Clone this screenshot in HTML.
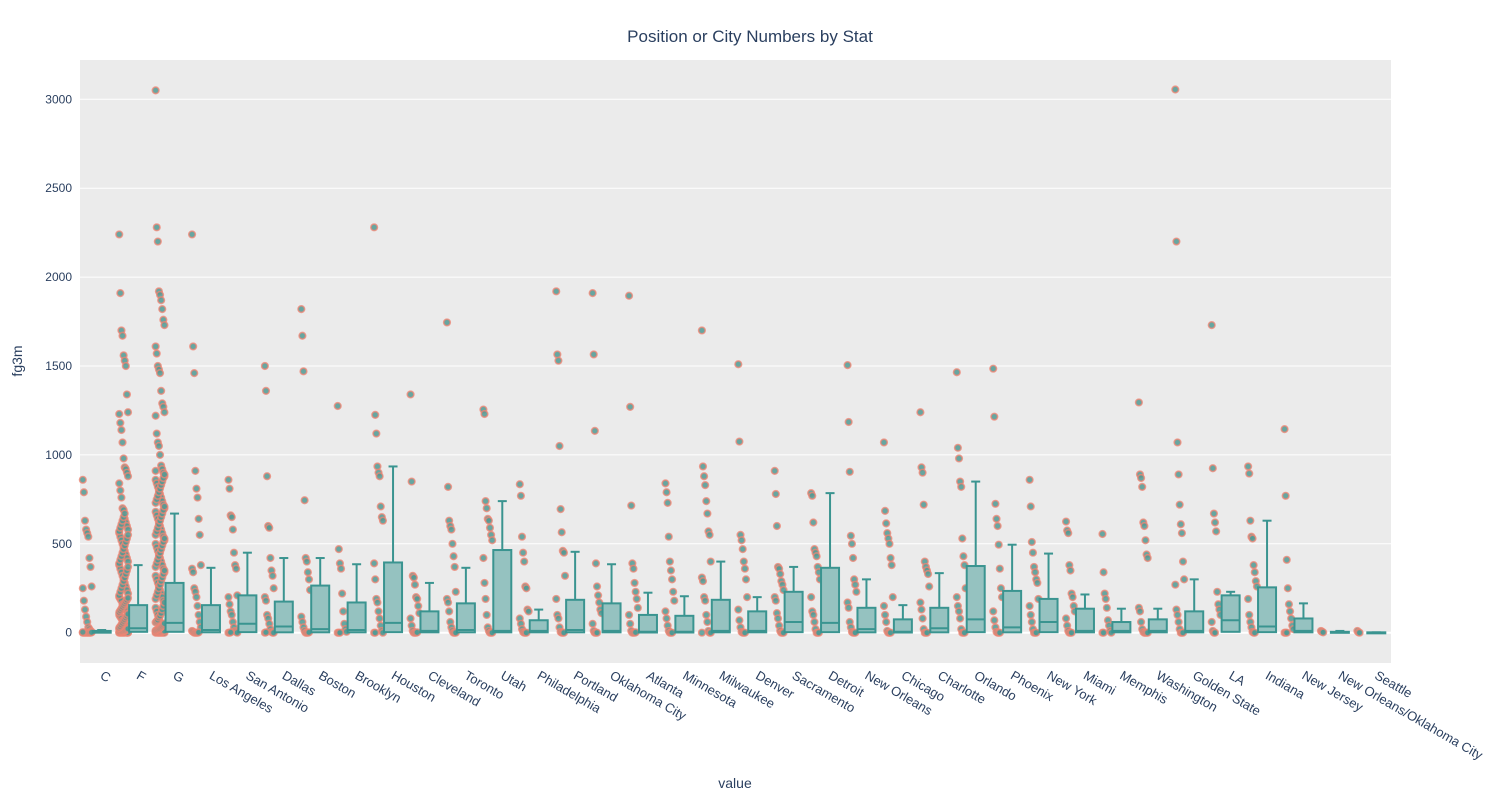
<!DOCTYPE html>
<html><head><meta charset="utf-8">
<style>
body{margin:0;background:#fff;font-family:"Liberation Sans",sans-serif;}
svg text{font-family:"Liberation Sans",sans-serif;fill:#2a3f5f;}
</style></head><body>
<svg id="chart" width="1500" height="800">
<rect x="0" y="0" width="1500" height="800" fill="#fff"/>
<rect x="80" y="60" width="1311" height="603" fill="#ebebeb"/>
<g id="grid"></g>
<g id="marks"></g>
<g id="xlabels"></g>
<text x="750" y="42" text-anchor="middle" font-size="17">Position or City Numbers by Stat</text>
<text x="735" y="788" text-anchor="middle" font-size="14">value</text>
<text x="22" y="361" text-anchor="middle" font-size="14" transform="rotate(-90 22 361)">fg3m</text>
</svg>
<script>
const categories=["C","F","G","Los Angeles","San Antonio","Dallas","Boston","Brooklyn","Houston","Cleveland","Toronto","Utah","Philadelphia","Portland","Oklahoma City","Atlanta","Minnesota","Milwaukee","Denver","Sacramento","Detroit","New Orleans","Chicago","Charlotte","Orlando","Phoenix","New York","Miami","Memphis","Washington","Golden State","LA","Indiana","New Jersey","New Orleans/Oklahoma City","Seattle"];
const q1=[0,5,5,2,3,2,2,2,3,2,2,2,2,2,2,1,1,2,2,3,3,2,1,2,3,2,3,2,2,2,2,5,3,2,1,0];
const medians=[2,25,55,15,50,35,20,15,55,10,15,10,10,15,10,5,5,10,10,60,55,20,5,25,75,30,60,10,10,10,10,70,35,10,2,1];
const q3=[10,155,280,155,210,175,265,170,395,120,165,465,70,185,165,100,95,185,120,230,365,140,75,140,375,235,190,135,60,75,120,210,255,80,5,2];
const whiskerHigh=[15,380,670,365,450,420,420,385,935,280,365,740,130,455,385,225,205,400,200,370,785,300,155,335,850,495,445,215,135,135,300,230,630,165,10,2];
const yTicks=[0,500,1000,1500,2000,2500,3000];
const points=[
[860,790,630,580,560,540,420,370,260,250,180,130,90,60,30,20,10,5,0,0,0,0,0,0,0,0,2,3],
[2240,1910,1700,1670,1560,1530,1500,1340,1240,1230,1180,1140,1070,980,930,920,900,880,840,800,760,700,690,640,620,600,580,560,540,520,500,480,460,440,420,400,380,360,340,320,300,280,260,240,220,200,190,180,160,150,140,130,120,110,100,90,80,70,60,50,40,30,25,20,15,10,8,5,3,2,0,0,0,0,0,0,0,0,1,1,2,3,4,6,7,9,12,14,18,22,28,35,45,55,65,75,85,95,105,115,125,135,145,155,165,175,185,195,210,230,250,270,290,310,330,350,370,390,410,430,450,470,490,510,530,550,570,590,610,630,650,670],
[3050,2280,2200,1920,1900,1870,1820,1760,1730,1610,1570,1500,1480,1460,1360,1290,1270,1240,1220,1120,1070,1050,1000,940,920,900,880,860,840,820,800,780,760,740,720,700,680,660,640,620,600,580,560,540,520,500,480,460,440,420,400,380,360,340,320,300,280,260,240,220,200,180,160,140,120,100,80,60,40,30,20,10,5,2,0,0,0,0,0,0,0,0,1,1,2,3,4,6,8,10,12,15,18,22,26,32,38,45,52,58,65,72,85,95,110,130,150,170,190,210,230,250,270,290,310,330,350,370,390,410,430,450,470,490,510,530,550,570,590,610,630,650,670,690,710,730,750,770,790,810,830,850,870,890,910],
[2240,1610,1460,910,810,760,640,550,380,360,340,250,230,200,150,100,60,30,10,5,0,0,0,0,2],
[860,810,660,650,580,450,380,360,210,200,160,120,100,60,30,10,5,0,0,0,2],
[1500,1360,880,600,590,420,350,320,250,200,180,100,80,50,20,5,0,0,0,2],
[1820,1670,1470,745,420,400,340,300,240,90,60,30,10,0,0,0,2],
[1275,470,390,360,220,120,50,20,5,0,0,0],
[2280,1225,1120,935,900,880,710,650,630,390,300,190,170,120,80,40,10,0,0,0],
[1340,850,320,310,270,200,190,150,110,80,40,10,0,0,0,2],
[1745,820,630,600,580,500,430,370,230,190,170,120,60,30,10,0,0,0],
[1255,1230,740,700,640,630,590,550,520,420,280,190,100,30,10,0,0,0],
[835,770,540,450,400,260,250,130,120,80,50,20,5,0,0,0],
[1920,1565,1530,1050,695,565,460,450,320,190,100,80,30,5,0,0,0],
[1910,1565,1135,390,260,210,170,130,110,50,10,0,0,0],
[1895,1270,715,390,360,280,230,190,140,100,50,10,0,0,0,2],
[840,790,730,540,400,350,300,230,180,120,80,40,10,0,0,0],
[1700,935,880,830,740,670,570,550,400,310,290,200,180,100,60,10,0,0,0],
[1510,1075,550,520,470,400,360,300,200,130,70,30,5,0,0,0],
[910,780,600,370,360,330,290,270,240,200,180,110,80,40,10,0,0,0],
[785,770,620,470,450,430,370,340,300,200,120,100,60,20,0,0,0],
[1505,1185,905,545,500,420,300,270,230,170,140,60,30,5,0,0,0],
[1070,685,615,560,530,500,420,380,200,150,100,60,10,0,0,0],
[1240,930,900,720,400,370,350,330,260,170,130,80,20,0,0,0],
[1465,1040,980,850,820,530,430,380,250,200,150,120,80,20,0,0,0],
[1485,1215,725,640,600,495,360,250,200,120,70,30,5,0,0,0],
[860,710,510,450,370,340,300,280,190,150,100,60,20,0,0,0],
[625,575,560,380,350,220,200,150,120,80,40,10,0,0,0],
[555,340,220,190,140,70,40,10,0,0,0],
[1295,890,870,820,620,600,520,440,420,140,120,60,20,5,0,0,0,0],
[3055,2200,1070,890,720,610,560,400,300,270,130,100,60,20,0,0,0],
[1730,925,670,620,570,230,160,130,100,60,10,0,0],
[935,895,630,540,530,380,340,290,260,190,100,60,30,5,0,0],
[1145,770,410,250,160,120,80,40,20,0,0,0],
[10,5,2],
[10,2,0]
];
const NS="http://www.w3.org/2000/svg";
const L=80,R=1391,T=60,B=663;
const band=(R-L)/categories.length;
function xScale(i){return L+band*(i+0.5);}
function yScale(v){return 632.7-v*0.1778;}
function mk(tag,attrs,parent){const e=document.createElementNS(NS,tag);for(const k in attrs)e.setAttribute(k,attrs[k]);parent.appendChild(e);return e;}
const grid=document.getElementById('grid'),marks=document.getElementById('marks'),xl=document.getElementById('xlabels');
yTicks.forEach(t=>{
  const y=yScale(t);
  const ln=mk('line',{x1:L,x2:R,y1:y,y2:y,stroke:'#fff','stroke-width':t===0?2:1},grid);
  
  
  const tx=mk('text',{x:L-8,y:y+4,'text-anchor':'end','font-size':12},grid);
  tx.textContent=t;
  
  
});
categories.forEach((c,i)=>{
  const cx=xScale(i);
  const g=mk('g',{},marks);
  
  
  const px=cx-11;
  points[i].forEach((v,j)=>{
    const off=(((j*37)%9)-4)*1.1;
    const p=mk('circle',{cx:px+off,cy:yScale(v),r:3.3,fill:'#4f9a94',stroke:'#f08473','stroke-width':1.6,'fill-opacity':0.85,'stroke-opacity':0.75},g);
    
    
  });
  const bx=cx+3.5,bw=18;
  const wy=yScale(whiskerHigh[i]),ty=yScale(q3[i]),by=yScale(q1[i]),my=yScale(medians[i]);
  const w=mk('line',{x1:bx,x2:bx,y1:wy,y2:ty,stroke:'#3a9490','stroke-width':2},g);
  
  
  const cap=mk('line',{x1:bx-4.5,x2:bx+4.5,y1:wy,y2:wy,stroke:'#3a9490','stroke-width':2},g);
  
  
  const r=mk('rect',{x:bx-bw/2,y:ty,width:bw,height:Math.max(by-ty,1),fill:'#95c2c0',stroke:'#3a9490','stroke-width':2},g);
  
  
  const m=mk('line',{x1:bx-bw/2,x2:bx+bw/2,y1:my,y2:my,stroke:'#3a9490','stroke-width':2},g);
  
  
  const lt=mk('text',{x:cx+1,y:678,'font-size':13,transform:'rotate(30 '+(cx+1)+' 678)'},xl);
  lt.textContent=c;
  
  
});
</script>
</body></html>
